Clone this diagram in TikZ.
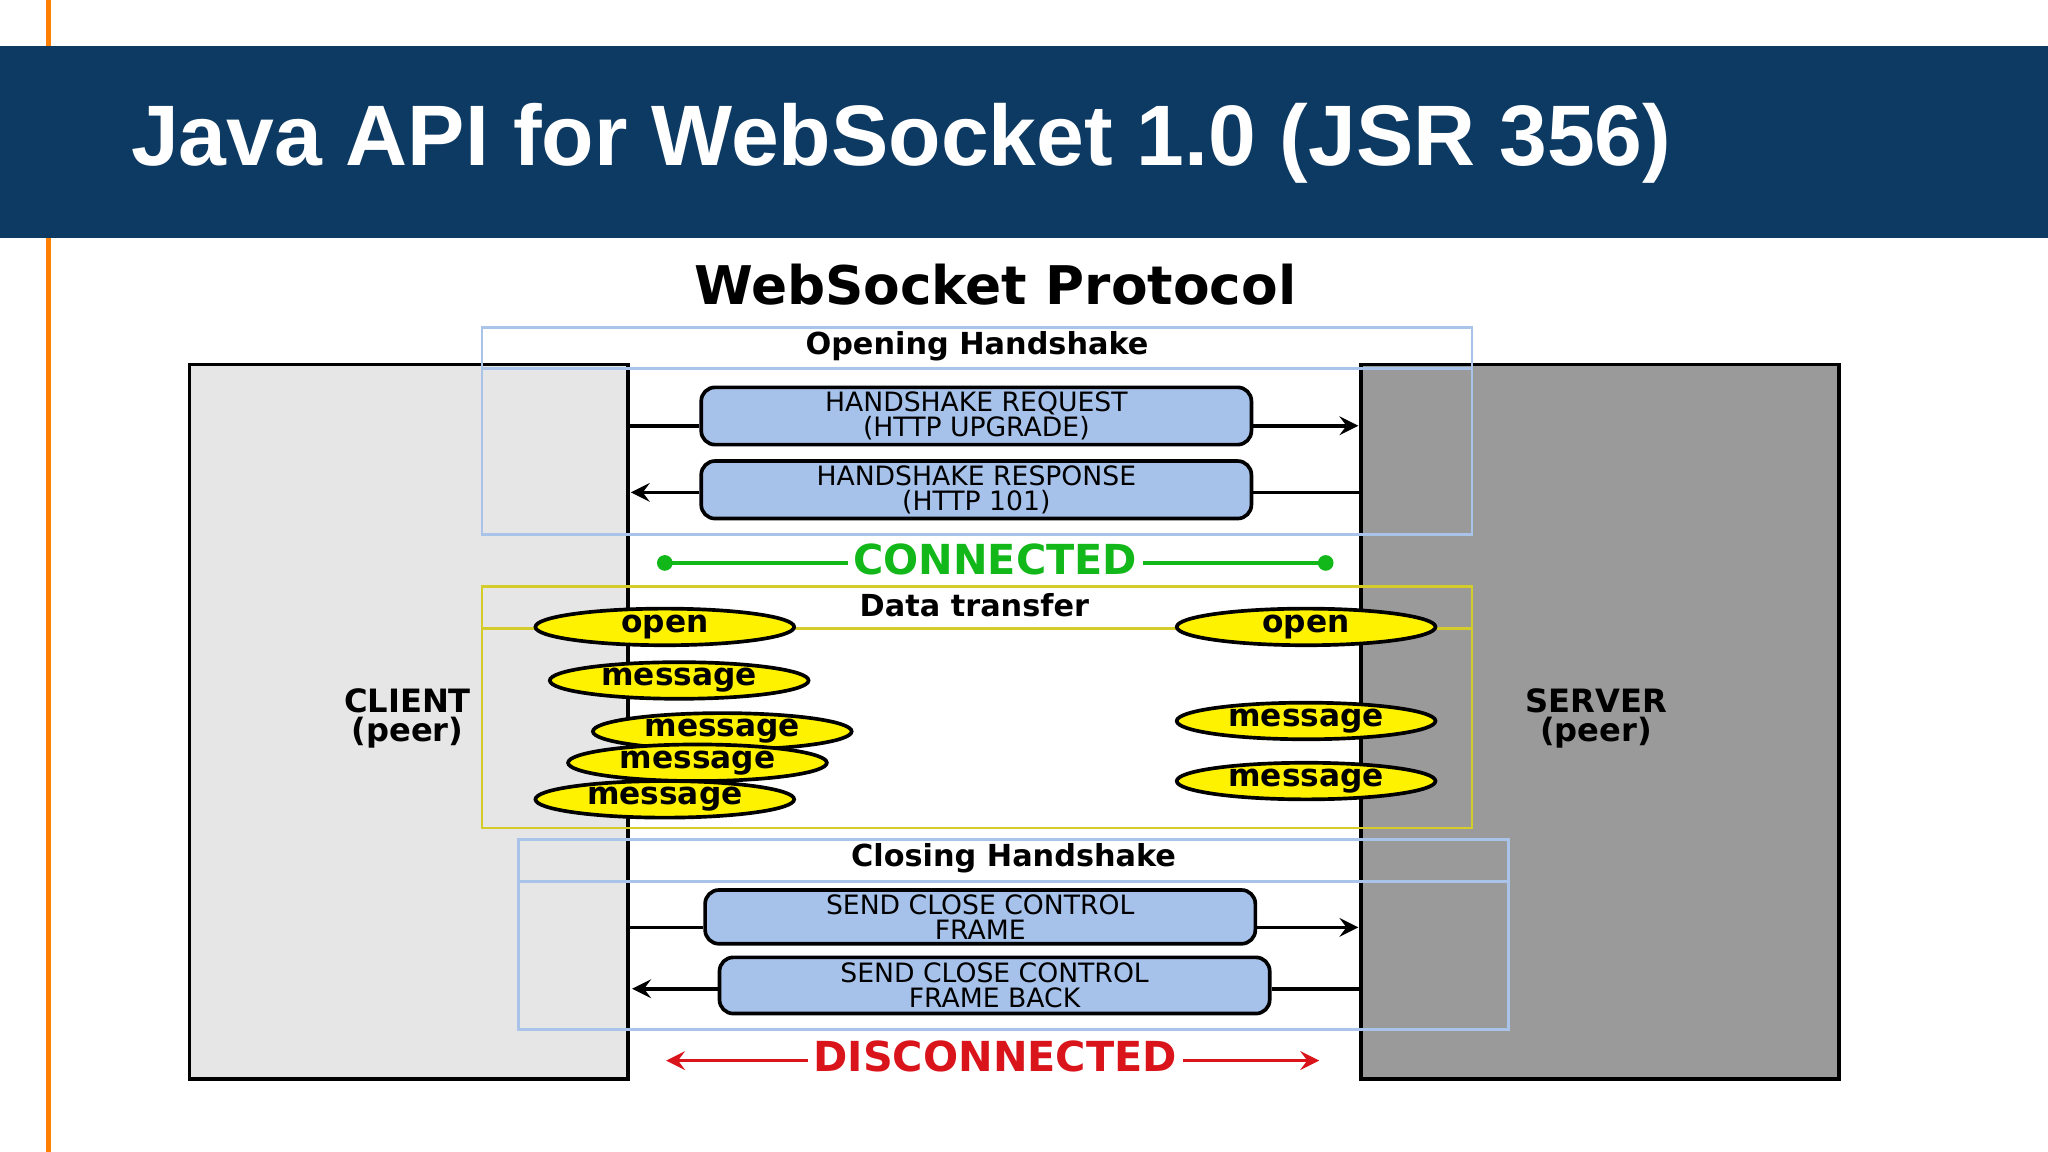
\documentclass[tikz,border=0pt]{standalone}
\usepackage{fontspec}
\setmainfont{DejaVu Sans}
\newfontfamily\titlefont{Liberation Sans}
\usetikzlibrary{shapes.geometric}
\definecolor{bandblue}{HTML}{0C3A63}
\definecolor{msgblue}{HTML}{A7C2EA}
\definecolor{frameblue}{HTML}{A9C4E8}
\definecolor{frameyellow}{HTML}{D4CC2A}
\definecolor{clientgray}{HTML}{E6E6E6}
\definecolor{servergray}{HTML}{9B9A9A}
\definecolor{okgreen}{HTML}{12B81A}
\definecolor{badred}{HTML}{D9141B}
\tikzset{
  msg/.style={draw,thick,rounded corners=3pt,fill=msgblue,minimum width=4.21cm,font=\fontsize{5.8}{5.4}\selectfont,align=center,inner sep=1pt},
  evt/.style={ellipse,draw,thick,fill=yellow,minimum width=1.98cm,minimum height=0.28cm,inner sep=0pt,font=\bfseries\fontsize{6.8}{7}\selectfont},
  frame/.style={draw,semithick},
  hdr/.style={font=\bfseries\fontsize{6.6}{7}\selectfont}
}
\begin{document}
\begin{tikzpicture}[x=0.01cm,y=-0.01cm,>=stealth]
  \useasboundingbox (0,0) rectangle (1568,882);
  \fill[white] (0,0) rectangle (1568,882);
  \draw[orange,line width=1.2pt] (37,0) -- (37,882);% side line
  \fill[bandblue] (0,35) rectangle (1568,182);% title band
  \node[anchor=west,text=white,font=\titlefont\bfseries\fontsize{18.7}{19}\selectfont] (title) at (88,110) {Java API for WebSocket 1.0 (JSR 356)};
  \node[font=\bfseries\fontsize{11.6}{11}\selectfont] (proto) at (762,218) {WebSocket Protocol};

  % peers
  \draw[thick,fill=clientgray] (145,279) rectangle (481,826);
  \draw[thick,fill=servergray] (1042,279) rectangle (1408,826);
  \node[align=center,font=\bfseries\fontsize{7}{6.5}\selectfont] (client) at (312,550) {CLIENT\\(peer)};
  \node[align=center,font=\bfseries\fontsize{7}{6.5}\selectfont] (server) at (1222,550) {SERVER\\(peer)};

  % opening handshake
  \draw[frame,frameblue] (369,251) rectangle (1127,409);
  \draw[frame,frameblue] (369,282) -- (1127,282);
  \node[hdr] (open hs) at (748,265) {Opening Handshake};
  \node[msg,minimum height=0.41cm] (req) at (747.5,318.5) {HANDSHAKE REQUEST\\(HTTP UPGRADE)};
  \node[msg,minimum height=0.44cm] (resp) at (747.5,375) {HANDSHAKE RESPONSE\\(HTTP 101)};
  \coordinate (c1) at (481,326); \coordinate (s1) at (1040,326);
  \coordinate (c2) at (483,377); \coordinate (s2) at (1042,377);
  \draw[thick] (c1) -- (req.west |- c1);
  \draw[thick,->] (req.east |- s1) -- (s1);
  \draw[thick] (s2) -- (resp.east |- s2);
  \draw[thick,->] (resp.west |- c2) -- (c2);

  % connected
  \node[text=okgreen,font=\bfseries\fontsize{9}{9}\selectfont,inner sep=1pt] (conn) at (762,428) {CONNECTED};
  \coordinate (g1) at (509,431); \coordinate (g2) at (1015,431);
  \fill[okgreen] (g1) circle (6) (g2) circle (6);
  \draw[okgreen,thick] (g1) -- (conn.west |- g1) (conn.east |- g2) -- (g2);

  % data transfer
  \draw[frame,frameyellow] (369,449) rectangle (1127,634);
  \draw[frame,frameyellow] (369,481) -- (1127,481);
  \node[hdr] (data) at (746,463) {Data transfer};
  \node[evt] (c open) at (509,480) {open};
  \node[evt] (s open) at (1000,480) {open};
  \node[evt] (c msg1) at (520,521) {message};
  \node[evt] (c msg2) at (553,560) {message};
  \node[evt] (c msg3) at (534,584) {message};
  \node[evt] (c msg4) at (509,612) {message};
  \node[evt] (s msg1) at (1000,552) {message};
  \node[evt] (s msg2) at (1000,598) {message};

  % closing handshake
  \draw[frame,frameblue] (397,643) rectangle (1155,788);
  \draw[frame,frameblue] (397,675) -- (1155,675);
  \node[hdr] (close hs) at (776,657) {Closing Handshake};
  \node[msg,minimum height=0.40cm] (close) at (750.5,702) {SEND CLOSE CONTROL\\FRAME};
  \node[msg,minimum height=0.43cm] (back) at (761.5,754.5) {SEND CLOSE CONTROL\\FRAME BACK};
  \coordinate (c3) at (481,710); \coordinate (s3) at (1040,710);
  \coordinate (c4) at (484,757); \coordinate (s4) at (1042,757);
  \draw[thick] (c3) -- (close.west |- c3);
  \draw[thick,->] (close.east |- s3) -- (s3);
  \draw[thick] (s4) -- (back.east |- s4);
  \draw[thick,->] (back.west |- c4) -- (c4);

  % disconnected
  \node[text=badred,font=\bfseries\fontsize{9}{9}\selectfont,inner sep=1pt] (disc) at (762,809) {DISCONNECTED};
  \coordinate (r1) at (510,812); \coordinate (r2) at (1010,812);
  \draw[badred,thick,->] (disc.west |- r1) -- (r1);
  \draw[badred,thick,->] (disc.east |- r2) -- (r2);
\end{tikzpicture}
\end{document}
